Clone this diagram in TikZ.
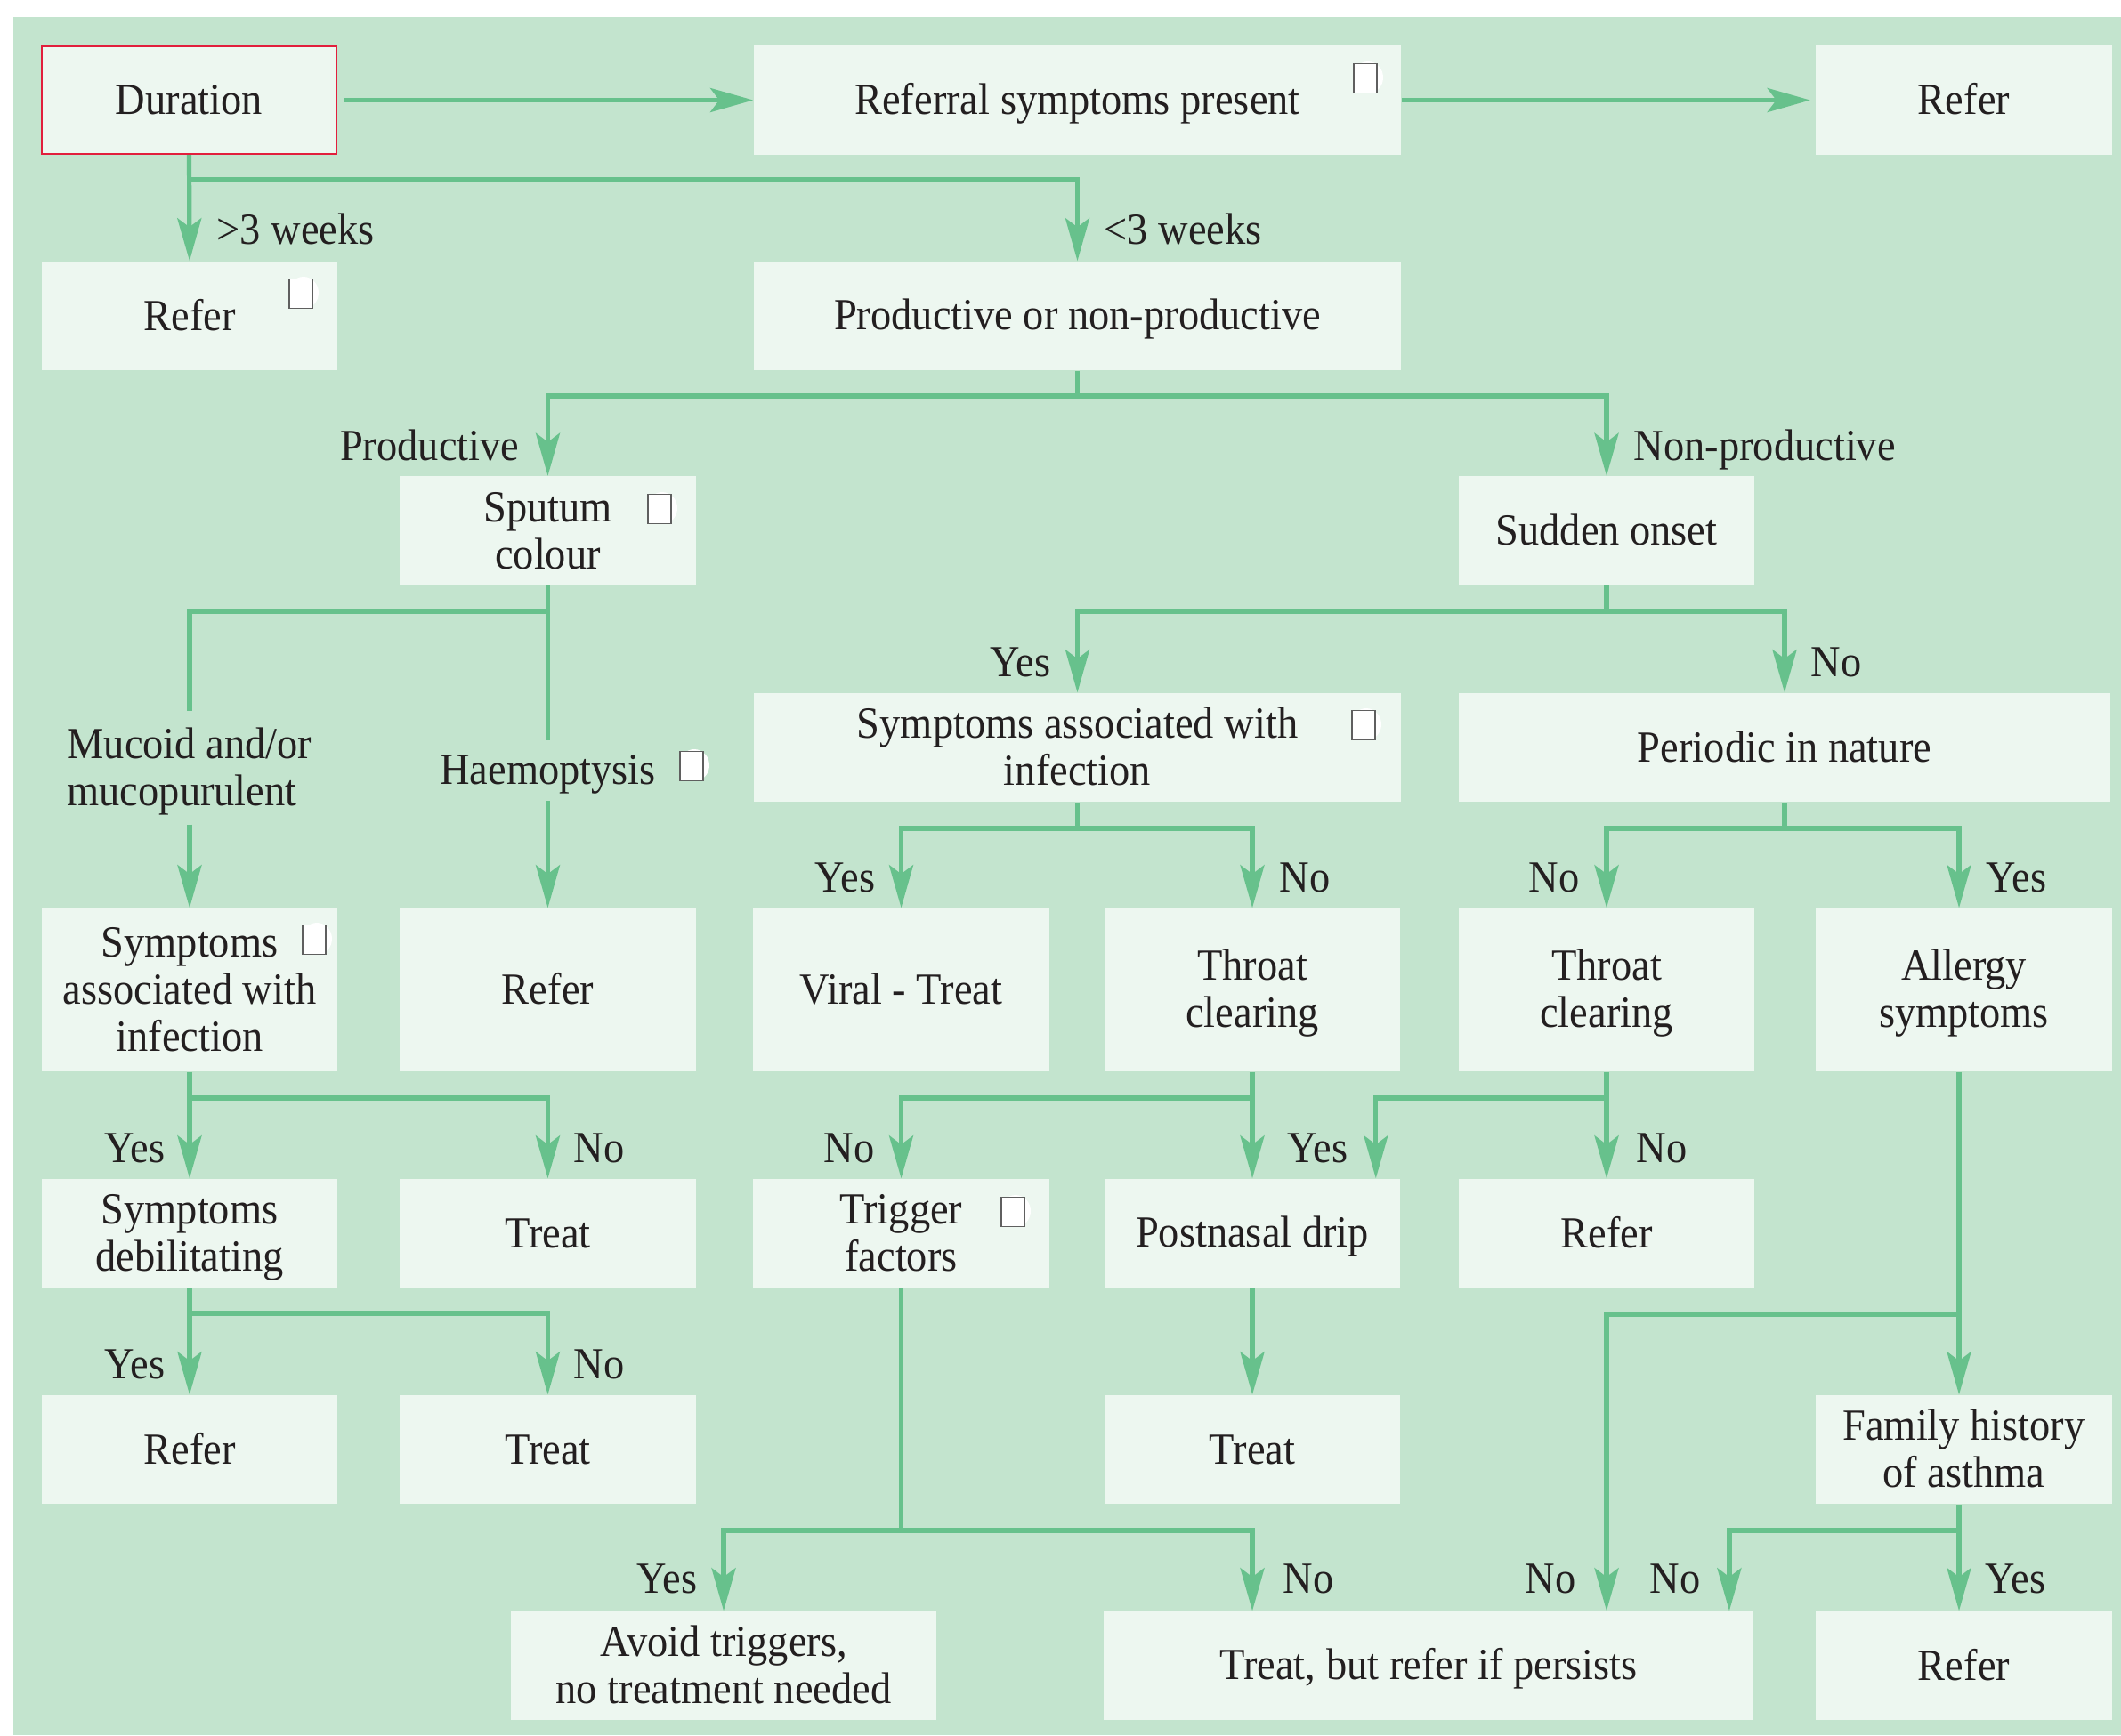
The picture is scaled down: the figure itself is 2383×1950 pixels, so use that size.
\documentclass[tikz,border=0pt]{standalone}
\usepackage{fontspec}
\setmainfont{Liberation Serif}[FakeStretch=0.93]
\usetikzlibrary{arrows.meta,calc}

\definecolor{panel}{RGB}{195,228,206}
\definecolor{boxfill}{RGB}{237,247,240}
\definecolor{flow}{RGB}{103,193,140}
\definecolor{frame}{RGB}{226,30,60}
\definecolor{ink}{RGB}{35,31,32}
\definecolor{chkline}{RGB}{95,95,95}

% strut giving every text line the same height and depth
\newcommand\ks{\rule[-0.1cm]{0pt}{0.52cm}}

\begin{document}
\begin{tikzpicture}[x=0.01cm,y=-0.01cm,
  every node/.style={font=\fontsize{14.2pt}{15.08pt}\selectfont, text=ink},
  card/.style={fill=boxfill, inner sep=0pt, align=center,
    minimum width=3.32cm, minimum height=1.22cm},
  tall/.style={minimum height=1.83cm},
  wide/.style={minimum width=7.27cm},
  lblL/.style={anchor=base east, inner sep=0pt},
  lblR/.style={anchor=base west, inner sep=0pt},
  cue/.style={inner xsep=0pt},
  chk/.style={draw=chkline, fill=white, line width=0.4pt, inner sep=0pt,
    minimum width=0.26cm, minimum height=0.33cm},
  line/.style={draw=flow, line width=0.052cm},
  arr/.style={line, -{Stealth[length=0.48cm,width=0.27cm,inset=0.1cm]}}
]
\useasboundingbox (0,0) rectangle (2383,1950);
\fill[panel] (15,19) rectangle (2383,1950);

% ---- boxes ----
\node[card, draw=frame, line width=0.02cm, minimum width=3.31cm, minimum height=1.21cm] (dur) at (212.5,112.5) {\ks Duration};
\node[card, wide] (ref) at (1210.5,112.5) {\ks Referral symptoms present};
\node[card] (refTop) at (2206.5,112.5) {\ks Refer};

\node[card] (referA) at (213,355) {\ks Refer};
\node[card, wide] (prod) at (1210.5,355) {\ks Productive or non-productive};

\node[card] (sput) at (615.5,596.5) {\ks Sputum\\\ks colour};
\node[card] (sudden) at (1805,596.5) {\ks Sudden onset};

\node[card, wide] (symB) at (1210.5,840) {\ks Symptoms associated with\\\ks infection};
\node[card, minimum width=7.32cm] (periodic) at (2005,840) {\ks Periodic in nature};

\node[card, tall] (symA) at (213,1112.5) {\ks Symptoms\\\ks associated with\\\ks infection};
\node[card, tall] (referB) at (615.5,1112.5) {\ks Refer};
\node[card, tall] (viral) at (1012.5,1112.5) {\ks Viral - Treat};
\node[card, tall] (throatD) at (1407,1112.5) {\ks Throat\\\ks clearing};
\node[card, tall] (throatE) at (1805,1112.5) {\ks Throat\\\ks clearing};
\node[card, tall] (allergy) at (2206.5,1112.5) {\ks Allergy\\\ks symptoms};

\node[card] (debil) at (213,1386) {\ks Symptoms\\\ks debilitating};
\node[card] (treatB) at (615.5,1386) {\ks Treat};
\node[card] (trigger) at (1012.5,1386) {\ks Trigger\\\ks factors};
\node[card] (postnasal) at (1407,1386) {\ks Postnasal drip};
\node[card] (referE) at (1805,1386) {\ks Refer};

\node[card] (referA7) at (213,1629) {\ks Refer};
\node[card] (treatB7) at (615.5,1629) {\ks Treat};
\node[card] (treatD7) at (1407,1629) {\ks Treat};
\node[card] (family) at (2206.5,1629) {\ks Family history\\\ks of asthma};

\node[card, minimum width=4.78cm] (avoid) at (813,1872) {\ks Avoid triggers,\\\ks no treatment needed};
\node[card, minimum width=7.30cm] (tbr) at (1605,1872) {\ks Treat, but refer if persists};
\node[card] (referF8) at (2206.5,1872) {\ks Refer};

% ---- free-standing cues on the sputum branches ----
\node[cue, align=left, inner ysep=0.1cm] (muc) at (213,863) {\ks Mucoid and/or\\\ks mucopurulent};
\node[cue, inner ysep=0.07cm] (haem) at (615.5,866) {\ks Haemoptysis};

% ---- connectors ----
\coordinate (fx) at (2201,0);

\draw[arr] ([xshift=0.08cm]dur.east) -- (ref.west);
\draw[arr] (ref.east) -- ([xshift=-0.06cm]refTop.west);
\draw[arr] (dur.south) -- (referA.north);
\coordinate (j1) at (212.5,202);
\draw[arr] (j1) -| (prod.north);

\coordinate (j2) at (1210.5,445);
\draw[line] (prod.south) -- (j2);
\draw[arr] (j2) -| (sput.north);
\draw[arr] (j2) -| (sudden.north);

\coordinate (j3) at (615.5,687);
\draw[line] (sput.south) -- (j3) -| (muc.north);
\draw[arr] (muc.south) -- (symA.north);
\draw[line] (j3) -- (haem.north);
\draw[arr] (haem.south) -- (referB.north);

\coordinate (j4) at (1805,687);
\draw[line] (sudden.south) -- (j4);
\draw[arr] (j4) -| (symB.north);
\draw[arr] (j4) -| (periodic.north);

\coordinate (j5) at (1210.5,931);
\draw[line] (symB.south) -- (j5);
\draw[arr] (j5) -| (viral.north);
\draw[arr] (j5) -| (throatD.north);

\coordinate (j6) at (2005,931);
\draw[line] (periodic.south) -- (j6);
\draw[arr] (j6) -| (throatE.north);
\draw[arr] (j6) -| (fx |- allergy.north);

\coordinate (j7) at (213,1234);
\draw[line] (symA.south) -- (j7);
\draw[arr] (j7) -- (debil.north);
\draw[arr] (j7) -| (treatB.north);

\coordinate (j8) at (1407,1234);
\draw[line] (throatD.south) -- (j8);
\draw[arr] (j8) -| (trigger.north);
\draw[arr] (j8) -- (postnasal.north);

\coordinate (j9) at (1805,1234);
\draw[line] (throatE.south) -- (j9);
\draw[arr] (j9) -| ([xshift=-0.28cm]postnasal.north east);
\draw[arr] (j9) -- (referE.north);

\coordinate (j10) at (213,1476);
\draw[line] (debil.south) -- (j10);
\draw[arr] (j10) -- (referA7.north);
\draw[arr] (j10) -| (treatB7.north);

\draw[arr] (postnasal.south) -- (treatD7.north);

\draw[arr] (fx |- allergy.south) -- (fx |- family.north);
\coordinate (j11) at (2201,1477);
\draw[arr] (j11) -| (referE |- tbr.north);

\coordinate (j12) at (1012.5,1720);
\draw[line] (trigger.south) -- (j12);
\draw[arr] (j12) -| (avoid.north);
\draw[arr] (j12) -| (postnasal |- tbr.north);

\coordinate (j13) at (2201,1720);
\draw[line] (fx |- family.south) -- (j13);
\draw[arr] (j13) -| ([xshift=-0.28cm]tbr.north east);
\draw[arr] (j13) -- (fx |- referF8.north);

% ---- branch labels ----
\node[lblR] (gt3) at (243,274) {>3 weeks};
\node[lblR] (lt3) at (1240,274) {<3 weeks};
\node[lblL] (lProd) at (584,517) {Productive};
\node[lblR] (lNonProd) at (1835,517) {Non-productive};
\node[lblL] (lYes4) at (1181,760) {Yes};
\node[lblR] (lNo4) at (2034,760) {No};
\node[lblL] (lYes5a) at (984,1002) {Yes};
\node[lblR] (lNo5a) at (1437,1002) {No};
\node[lblL] (lNo5b) at (1775,1002) {No};
\node[lblR] (lYes5b) at (2231,1002) {Yes};
\node[lblL] (lYes6a) at (186,1306) {Yes};
\node[lblR] (lNo6a) at (644,1306) {No};
\node[lblL] (lNo6b) at (983,1306) {No};
\node[lblR] (lYes6b) at (1446,1306) {Yes};
\node[lblR] (lNo6c) at (1838,1306) {No};
\node[lblL] (lYes7) at (186,1549) {Yes};
\node[lblR] (lNo7) at (644,1549) {No};
\node[lblL] (lYes8) at (784,1790) {Yes};
\node[lblR] (lNo8a) at (1441,1790) {No};
\node[lblL] (lNo8b) at (1771,1790) {No};
\node[lblL] (lNo8c) at (1911,1790) {No};
\node[lblR] (lYes8b) at (2230,1790) {Yes};

% ---- small tick boxes ----
\foreach \n/\x/\y in {chkRef/1534/88, chkReferA/338/330, chkSput/741/572,
    chkHaem/777/861, chkSymB/1532/815, chkSymA/353/1056, chkTrig/1138/1362}{
  \fill[white] (\x+3,\y-1) ellipse [x radius=17, y radius=18];
  \node[chk] (\n) at (\x,\y) {};
}
\end{tikzpicture}
\end{document}
